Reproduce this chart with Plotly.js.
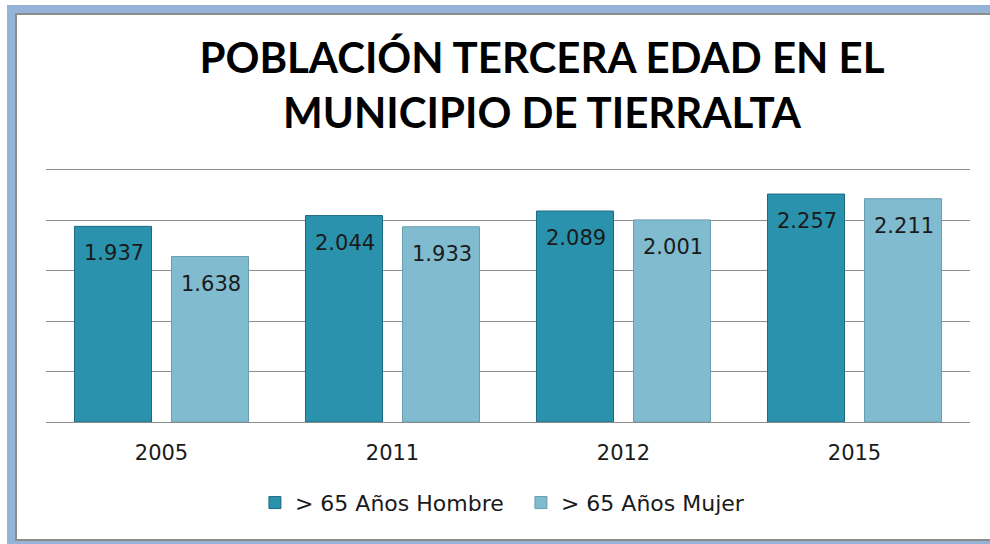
<!DOCTYPE html>
<html>
<head>
<meta charset="utf-8">
<script src="https://cdn.plot.ly/plotly-3.0.1.min.js"></script>
<style>
  html, body { margin: 0; padding: 0; background: #ffffff; overflow: hidden; }
  #chart { position: absolute; left: 0; top: 0; width: 990px; height: 544px; }
  #frame { position: absolute; left: 7px; top: 5px; width: 1100px; height: 544px;
           box-sizing: border-box; border: 8px solid #94b3d6; pointer-events: none; }
  #frame-inner { position: absolute; left: 0; top: 0; right: 0; bottom: 0;
           border: 2px solid #8c8c8c; pointer-events: none; }
</style>
</head>
<body>
<div id="chart"></div>
<div id="frame"><div id="frame-inner"></div></div>
<script>
const years = ['2005', '2011', '2012', '2015'];
const hombre = [1937, 2044, 2089, 2257];
const mujer = [1638, 1933, 2001, 2211];
const seriesNames = ['> 65 Años Hombre', '> 65 Años Mujer'];
const seriesColors = ['#2a92ad', '#80bbcf'];
const seriesLines = ['#1d6a80', '#6a9cad'];

function fmt(v) {
  return String(v).replace(/\B(?=(\d{3})+(?!\d))/g, '.');
}

const traces = [hombre, mujer].map((vals, i) => ({
  type: 'bar',
  name: seriesNames[i],
  x: years,
  y: vals,
  marker: { color: seriesColors[i], line: { color: seriesLines[i], width: 1 } },
  hoverinfo: 'skip'
}));

const annotations = [];
[hombre, mujer].forEach((vals, i) => {
  vals.forEach((v, j) => {
    annotations.push({
      x: j, y: v, xref: 'x', yref: 'y',
      xshift: i === 0 ? -48 : 49, yshift: -27,
      text: fmt(v), showarrow: false, yanchor: 'middle', xanchor: 'center',
      font: { family: 'DejaVu Sans', size: 21, color: '#1a1a1a' }
    });
  });
});

const layout = {
  width: 990, height: 544,
  margin: { l: 46, r: 20, t: 168, b: 122 },
  paper_bgcolor: '#ffffff', plot_bgcolor: '#ffffff',
  barmode: 'group', bargap: 0.16, bargroupgap: 0.206,
  title: {
    text: 'POBLACIÓN TERCERA EDAD EN EL<br>MUNICIPIO DE TIERRALTA',
    x: 0.5475, xref: 'container', xanchor: 'center',
    y: 0.8655, yref: 'container', yanchor: 'top',
    font: { family: 'Lato', size: 42, color: '#000000', weight: 'bold' }
  },
  xaxis: {
    type: 'category', range: [-0.5, 3.5], autorange: false,
    showgrid: false, zeroline: false, showline: false,
    ticks: '', tickfont: { family: 'DejaVu Sans', size: 21, color: '#1a1a1a' },
    ticklabelstandoff: 16
  },
  yaxis: {
    range: [0, 2515], autorange: false, dtick: 500, tick0: 0, showticklabels: false, ticks: '',
    showgrid: true, gridcolor: '#8c8c8c', gridwidth: 1,
    zeroline: true, zerolinecolor: '#8c8c8c', zerolinewidth: 1, showline: false
  },
  showlegend: true,
  legend: {
    orientation: 'h', x: 0.514, xanchor: 'center', y: -0.318, yanchor: 'middle',
    font: { family: 'DejaVu Sans', size: 22, color: '#1a1a1a' },
    itemwidth: 30, entrywidth: 221, traceorder: 'normal'
  },
  annotations: annotations
};

Plotly.newPlot('chart', traces, layout, { displayModeBar: false, staticPlot: true });
</script>
</body>
</html>
